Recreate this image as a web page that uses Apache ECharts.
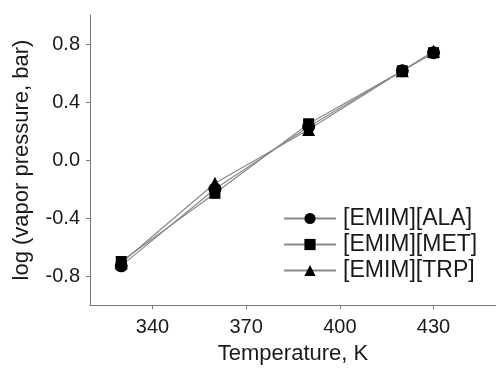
<!DOCTYPE html>
<html>
<head>
<meta charset="utf-8">
<script src="https://cdn.jsdelivr.net/npm/echarts@6/dist/echarts.min.js"></script>
<style>
html,body{margin:0;padding:0;background:#fff;}
#c{width:496px;height:370px;}
</style>
</head>
<body>
<div id="c"></div>
<script>
const temperatures = [330, 360, 390, 420, 430];
const alaValues = [-0.73, -0.20, 0.23, 0.615, 0.74];
const metValues = [-0.70, -0.23, 0.25, 0.615, 0.74];
const trpValues = [-0.71, -0.16, 0.21, 0.615, 0.75];
const seriesNames = ['[EMIM][ALA]', '[EMIM][MET]', '[EMIM][TRP]'];
const xTicks = [340, 370, 400, 430];
const yTicks = [-0.8, -0.4, 0.0, 0.4, 0.8];

const font = 'Liberation Sans, Arial, sans-serif';
const textColor = '#1a1a1a';
const axisColor = '#7a7a7a';

function pairs(vals){ return temperatures.map((t,i)=>[t, vals[i]]); }

function mkSeries(name, vals, symbol, size){
  return {
    name: name, type: 'line', data: pairs(vals),
    symbol: symbol, symbolSize: size,
    lineStyle: {color: '#8a8a8a', width: 1.2},
    itemStyle: {color: '#000'},
    emphasis: {disabled: true},
    animation: false
  };
}

const chart = echarts.init(document.getElementById('c'));
chart.setOption({
  backgroundColor: '#fff',
  animation: false,
  grid: {left: 90, top: 15, width: 412, height: 296},
  legend: {
    orient: 'vertical', left: 278, top: 202,
    itemWidth: 52, itemHeight: 14, itemGap: 3,
    textStyle: {fontFamily: font, fontSize: 23, color: textColor, padding: [0,0,0,2]},
    data: seriesNames
  },
  xAxis: {
    type: 'value', min: 320, max: 450,
    name: 'Temperature, K', nameLocation: 'middle', nameGap: 38,
    nameTextStyle: {fontFamily: font, fontSize: 22, color: textColor},
    axisLine: {show: true, onZero: false, lineStyle: {color: axisColor, width: 1}},
    axisTick: {show: true, inside: false, length: 4, customValues: xTicks, lineStyle: {color: axisColor}},
    axisLabel: {customValues: xTicks, fontFamily: font, fontSize: 20, color: textColor, margin: 12},
    splitLine: {show: false}
  },
  yAxis: {
    type: 'value', min: -1, max: 1,
    name: 'log (vapor pressure, bar)', nameLocation: 'middle', nameGap: 57,
    nameTextStyle: {fontFamily: font, fontSize: 22, color: textColor},
    axisLine: {show: true, onZero: false, lineStyle: {color: axisColor, width: 1}},
    axisTick: {show: true, inside: false, length: 4, customValues: yTicks, lineStyle: {color: axisColor}},
    axisLabel: {customValues: yTicks, fontFamily: font, fontSize: 20, color: textColor, margin: 10,
      formatter: v => (Math.abs(v) < 1e-9 ? 0 : v).toFixed(1)},
    splitLine: {show: false}
  },
  series: [
    mkSeries(seriesNames[0], alaValues, 'circle', 13),
    mkSeries(seriesNames[1], metValues, 'rect', 11),
    mkSeries(seriesNames[2], trpValues, 'triangle', 13)
  ]
});
</script>
</body>
</html>
